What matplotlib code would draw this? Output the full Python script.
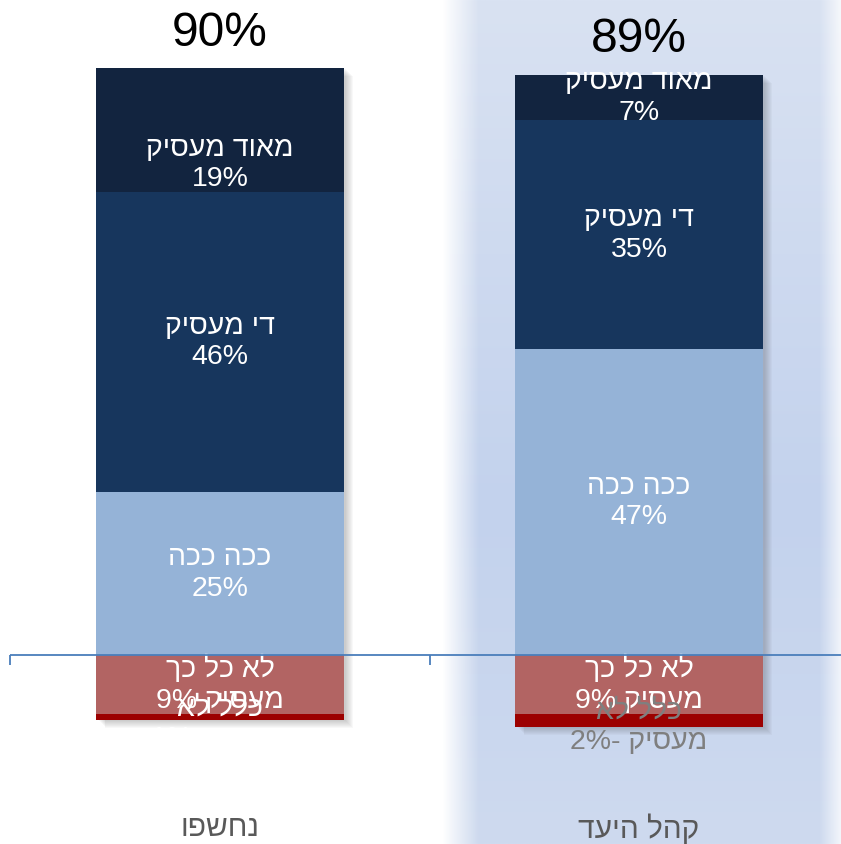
import numpy as np
import matplotlib
matplotlib.use("Agg")
import matplotlib.pyplot as plt
from matplotlib.colors import to_rgb

plt.rcParams['font.family'] = ['Liberation Sans', 'DejaVu Sans']

# Data: share of respondents per engagement level (top level listed first)
groups = ["נחשפו", "קהל היעד"]
positive_levels = ["מאוד מעסיק", "די מעסיק", "ככה ככה"]
negative_levels = ["לא כל כך מעסיק", "כלל לא מעסיק"]
positive_values = {
    "נחשפו": [19, 46, 25],
    "קהל היעד": [7, 35, 47],
}
negative_values = {
    "נחשפו": [9, 1],
    "קהל היעד": [9, 2],
}

positive_colors = ["#12243F", "#17365D", "#95B3D7"]
negative_colors = ["#B26463", "#9C0000"]
negative_text_colors = {"נחשפו": ["white", "white"], "קהל היעד": ["white", "#7F7F7F"]}


def rtl(s):
    """Hebrew text in visual (left-to-right drawing) order."""
    return s[::-1]


fig = plt.figure(figsize=(8.41, 8.44), dpi=100)
ax = fig.add_axes([0, 0, 1, 1])
ax.set_xlim(-0.525, 1.482)
ax.set_ylim(-28.99, 100.46)
ax.axis("off")

# Soft blue highlight panel behind the second group
H, W = 300, 300
yy = np.linspace(0, 1, H)[:, None]
xx = np.linspace(0, 1, W)[None, :]
top_c = np.array(to_rgb("#D9E2F2"))
mid_c = np.array(to_rgb("#C3D2ED"))
bot_c = np.array(to_rgb("#CEDAEF"))
t = yy[..., None]
col = np.where(t < 0.6,
               top_c + (mid_c - top_c) * (t / 0.6),
               mid_c + (bot_c - mid_c) * ((t - 0.6) / 0.4))
col = np.broadcast_to(col, (H, W, 3))
edge = np.clip(np.minimum(xx / 0.09, (1 - xx) / 0.07), 0, 1)
alpha = np.broadcast_to(edge, (H, W))
panel = np.dstack([col, alpha])
ax.imshow(panel, extent=(0.53, 1.50, -28.99, 100.46), origin="upper",
          aspect="auto", zorder=0, interpolation="bilinear")

width = 0.59
fs = 20.5
ls = 1.22
for i, g in enumerate(groups):
    pos = positive_values[g]
    neg = negative_values[g]
    top = sum(pos)
    low = -sum(neg)

    # drop shadow
    for k in range(1, 9):
        dx = k * 0.0022
        dy = k * 0.15
        ax.add_patch(plt.Rectangle((i - width / 2 + dx + 0.004, low - dy),
                                   width, top - low, color="#404040",
                                   alpha=0.035, lw=0, zorder=1))

    # stack upward from the axis: last listed level sits on the axis
    bottom = 0
    for j in reversed(range(len(pos))):
        v, c, name = pos[j], positive_colors[j], positive_levels[j]
        ax.bar(i, v, bottom=bottom, width=width, color=c, lw=0, zorder=2)
        yc = bottom + v / 2
        if j == 0 and v > 12:
            yc -= 5.2
        ax.text(i, yc, rtl(name) + "\n" + f"{v}%", ha="center", va="center",
                color="white", fontsize=fs, linespacing=ls, zorder=4)
        bottom += v

    bottom = 0
    for j, (v, c, name) in enumerate(zip(neg, negative_colors, negative_levels)):
        ax.bar(i, -v, bottom=bottom, width=width, color=c, lw=0, zorder=2)
        words = name.split()
        first = rtl(" ".join(words[:-1]))
        sep = " " if j == 0 else "- "
        second = f"{v}%" + sep + rtl(words[-1])
        ax.text(i, bottom - v / 2 - (0 if j == 0 else 1.0), first + "\n" + second,
                ha="center", va="center", color=negative_text_colors[g][j],
                fontsize=fs, linespacing=ls, zorder=4)
        bottom -= v

    ax.annotate(f"{top}%", (i, top), xytext=(0, 9), textcoords="offset points",
                ha="center", va="bottom", fontsize=34.5, color="black", zorder=5)
    ax.text(i, -26.6, rtl(g), ha="center", va="center", fontsize=21.5,
            color="#595959", zorder=5)

# category axis at zero with boundary ticks
ax.plot([-0.5, 1.5], [0, 0], color="#4A7EBB", lw=1.3, zorder=6,
        solid_capstyle="butt")
ax.vlines([-0.5, 0.5, 1.5], -1.5, 0, color="#4A7EBB", lw=1.3, zorder=6)

fig.savefig("out.png", dpi=100)
